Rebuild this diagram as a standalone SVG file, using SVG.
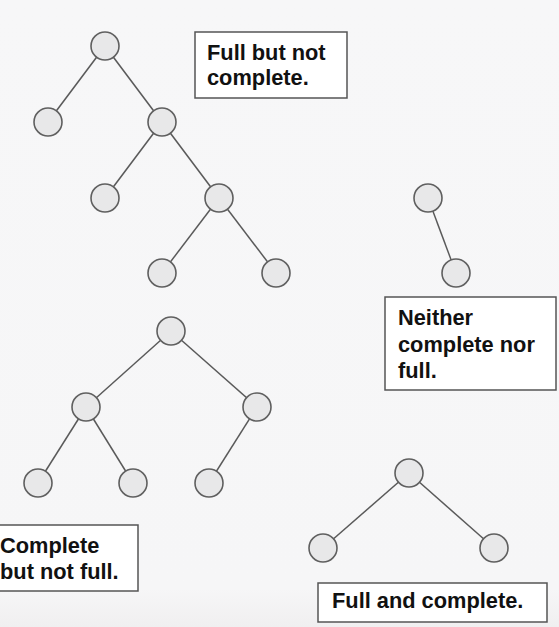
<svg xmlns="http://www.w3.org/2000/svg" width="559" height="627" viewBox="0 0 559 627">
<defs>
<linearGradient id="bg" x1="0" y1="0" x2="0" y2="1">
<stop offset="0" stop-color="#f7f7f8"/>
<stop offset="0.94" stop-color="#f6f6f7"/>
<stop offset="1" stop-color="#f0eff0"/>
</linearGradient>
</defs>
<style>
.node circle{fill:#e8e8e9;stroke:#5f5f5f;stroke-width:1.6}
.edges line{stroke:#5a5a5a;stroke-width:1.5}
.label rect{fill:#ffffff;stroke:#555555;stroke-width:1.5}
.label text{font-family:"Liberation Sans",Arial,Helvetica,sans-serif;font-weight:bold;font-size:21.8px;fill:#111111}
</style>
<rect width="559" height="627" fill="url(#bg)"/>
<g id="connectors" class="edges">
<line x1="105" y1="46" x2="48" y2="122"/>
<line x1="105" y1="46" x2="162" y2="122"/>
<line x1="162" y1="122" x2="105" y2="198"/>
<line x1="162" y1="122" x2="219" y2="198"/>
<line x1="219" y1="198" x2="162" y2="273"/>
<line x1="219" y1="198" x2="276" y2="273"/>
<line x1="428" y1="198" x2="456" y2="273"/>
<line x1="171" y1="331" x2="86" y2="407"/>
<line x1="171" y1="331" x2="257" y2="407"/>
<line x1="86" y1="407" x2="38" y2="483"/>
<line x1="86" y1="407" x2="133" y2="483"/>
<line x1="257" y1="407" x2="209" y2="483"/>
<line x1="409" y1="473" x2="323" y2="548"/>
<line x1="409" y1="473" x2="494" y2="548"/>
</g>
<g id="t1-root" class="node"><circle cx="105" cy="46" r="14"/></g>
<g id="t1-l" class="node"><circle cx="48" cy="122" r="14"/></g>
<g id="t1-r" class="node"><circle cx="162" cy="122" r="14"/></g>
<g id="t1-rl" class="node"><circle cx="105" cy="198" r="14"/></g>
<g id="t1-rr" class="node"><circle cx="219" cy="198" r="14"/></g>
<g id="t1-rrl" class="node"><circle cx="162" cy="273" r="14"/></g>
<g id="t1-rrr" class="node"><circle cx="276" cy="273" r="14"/></g>
<g id="t2-root" class="node"><circle cx="428" cy="198" r="14"/></g>
<g id="t2-c" class="node"><circle cx="456" cy="273" r="14"/></g>
<g id="t3-root" class="node"><circle cx="171" cy="331" r="14"/></g>
<g id="t3-l" class="node"><circle cx="86" cy="407" r="14"/></g>
<g id="t3-r" class="node"><circle cx="257" cy="407" r="14"/></g>
<g id="t3-ll" class="node"><circle cx="38" cy="483" r="14"/></g>
<g id="t3-lr" class="node"><circle cx="133" cy="483" r="14"/></g>
<g id="t3-rl" class="node"><circle cx="209" cy="483" r="14"/></g>
<g id="t4-root" class="node"><circle cx="409" cy="473" r="14"/></g>
<g id="t4-l" class="node"><circle cx="323" cy="548" r="14"/></g>
<g id="t4-r" class="node"><circle cx="494" cy="548" r="14"/></g>
<g id="label-full-not-complete" class="label">
<rect x="195" y="32" width="152" height="66"/>
<text x="207" y="60">Full but not</text>
<text x="207" y="85">complete.</text>
</g>
<g id="label-neither" class="label">
<rect x="385" y="297" width="171" height="93"/>
<text x="398" y="325">Neither</text>
<text x="398" y="352">complete nor</text>
<text x="398" y="378">full.</text>
</g>
<g id="label-complete-not-full" class="label">
<rect x="-5" y="525" width="143" height="66"/>
<text x="0" y="553">Complete</text>
<text x="0" y="579">but not full.</text>
</g>
<g id="label-full-complete" class="label">
<rect x="318" y="583" width="229" height="39"/>
<text x="332" y="608">Full and complete.</text>
</g>
</svg>
